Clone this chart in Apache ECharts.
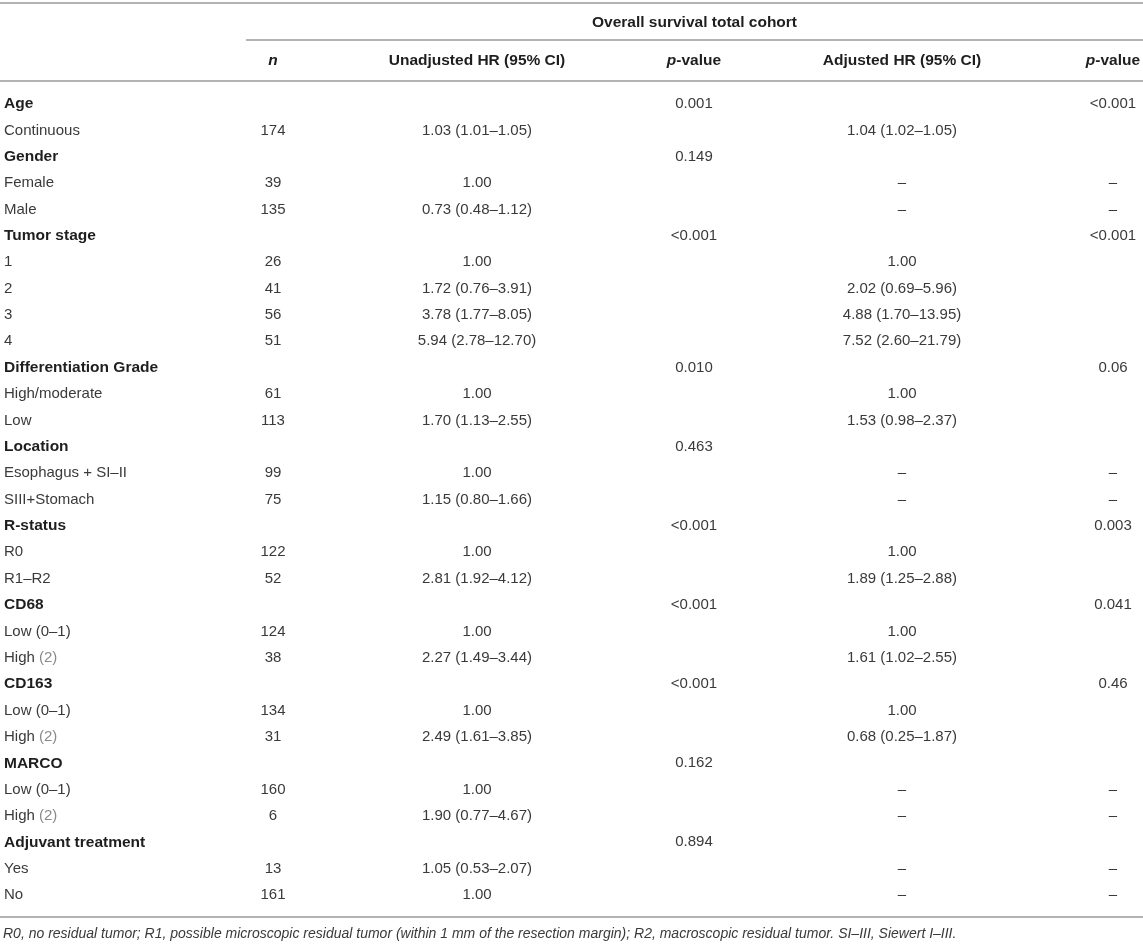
<!DOCTYPE html>
<html>
<head>
<meta charset="utf-8">
<script src="https://cdn.jsdelivr.net/npm/echarts@6/dist/echarts.min.js"></script>
<style>
  html, body { margin: 0; padding: 0; background: #fff; }
  #main { width: 1143px; height: 944px; }
</style>
</head>
<body>
<div id="main"></div>
<script>
// table content, one entry per body row
var labels = ['Age', 'Continuous', 'Gender', 'Female', 'Male', 'Tumor stage', '1', '2', '3', '4',
  'Differentiation Grade', 'High/moderate', 'Low', 'Location', 'Esophagus + SI–II', 'SIII+Stomach',
  'R-status', 'R0', 'R1–R2', 'CD68', 'Low (0–1)', 'High {g|(2)}', 'CD163', 'Low (0–1)', 'High {g|(2)}',
  'MARCO', 'Low (0–1)', 'High {g|(2)}', 'Adjuvant treatment', 'Yes', 'No'];
var groupRows = [0, 2, 5, 10, 13, 16, 19, 22, 25, 28];
var nCol = ['', '174', '', '39', '135', '', '26', '41', '56', '51', '', '61', '113', '', '99', '75',
  '', '122', '52', '', '124', '38', '', '134', '31', '', '160', '6', '', '13', '161'];
var unadjusted = ['', '1.03 (1.01–1.05)', '', '1.00', '0.73 (0.48–1.12)', '', '1.00', '1.72 (0.76–3.91)',
  '3.78 (1.77–8.05)', '5.94 (2.78–12.70)', '', '1.00', '1.70 (1.13–2.55)', '', '1.00', '1.15 (0.80–1.66)',
  '', '1.00', '2.81 (1.92–4.12)', '', '1.00', '2.27 (1.49–3.44)', '', '1.00', '2.49 (1.61–3.85)',
  '', '1.00', '1.90 (0.77–4.67)', '', '1.05 (0.53–2.07)', '1.00'];
var pUnadjusted = ['0.001', '', '0.149', '', '', '<0.001', '', '', '', '', '0.010', '', '', '0.463', '', '',
  '<0.001', '', '', '<0.001', '', '', '<0.001', '', '', '0.162', '', '', '0.894', '', ''];
var adjusted = ['', '1.04 (1.02–1.05)', '', '–', '–', '', '1.00', '2.02 (0.69–5.96)', '4.88 (1.70–13.95)',
  '7.52 (2.60–21.79)', '', '1.00', '1.53 (0.98–2.37)', '', '–', '–', '', '1.00', '1.89 (1.25–2.88)',
  '', '1.00', '1.61 (1.02–2.55)', '', '1.00', '0.68 (0.25–1.87)', '', '–', '–', '', '–', '–'];
var pAdjusted = ['<0.001', '', '', '–', '–', '<0.001', '', '', '', '', '0.06', '', '', '', '–', '–',
  '0.003', '', '', '0.041', '', '', '0.46', '', '', '', '–', '–', '', '–', '–'];
var headers = ['', '{bi|n}', '{b|Unadjusted HR (95% CI)}', '{i|p}{b|-value}', '{b|Adjusted HR (95% CI)}', '{i|p}{b|-value}'];
var spanHeader = 'Overall survival total cohort';
var footnote = 'R0, no residual tumor; R1, possible microscopic residual tumor (within 1 mm of the resection margin); R2, macroscopic residual tumor. SI–III, Siewert I–III.';

// layout: column anchors (x units) and header/rule rows (row units)
var colX = [4, 273, 477, 694, 902, 1113];
var spanX = 592;
var spanRow = -3.07, headRow = -1.63, footRow = 31.48;
var rules = [[-3.83, 0, 1143], [-2.43, 246, 1143], [-0.87, 0, 1143], [30.83, 0, 1143]];

var FONT = '"Liberation Sans", Arial, Helvetica, sans-serif';
var TXT = '#3a3a3a', BOLD = '#1e1e1e';

var cells = [];
var columns = [labels, nCol, unadjusted, pUnadjusted, adjusted, pAdjusted];
columns.forEach(function (col, c) {
  col.forEach(function (t, r) {
    if (!t) return;
    var bold = c === 0 && groupRows.indexOf(r) >= 0;
    cells.push({ x: colX[c], y: r, text: bold ? '{b|' + t + '}' : t, align: c === 0 ? 'left' : 'center' });
  });
});
headers.forEach(function (t, c) {
  if (t) cells.push({ x: colX[c], y: headRow, text: t, align: 'center' });
});
cells.push({ x: spanX, y: spanRow, text: '{b|' + spanHeader + '}', align: 'left' });
cells.push({ x: 3, y: footRow, text: '{it|' + footnote + '}', align: 'left' });

var rich = {
  b: { fontFamily: FONT, fontSize: 15.5, fontWeight: 'bold', fill: BOLD, color: BOLD },
  bi: { fontFamily: FONT, fontSize: 15.5, fontWeight: 'bold', fontStyle: 'italic', fill: BOLD, color: BOLD },
  i: { fontFamily: FONT, fontSize: 15.5, fontWeight: 'bold', fontStyle: 'italic', fill: BOLD, color: BOLD },
  g: { fontFamily: FONT, fontSize: 15, fill: '#8a8a8a', color: '#8a8a8a' },
  it: { fontFamily: FONT, fontSize: 14, fontStyle: 'italic', fill: '#3a3a3a', color: '#3a3a3a' }
};

var chart = echarts.init(document.getElementById('main'));
chart.setOption({
  animation: false,
  grid: { left: 0, right: 0, top: 0, bottom: 0 },
  xAxis: { type: 'value', min: 0, max: 1143, show: false },
  yAxis: { type: 'value', inverse: true, min: -3.944, max: 31.855, show: false },
  series: [
    {
      type: 'custom',
      name: 'rules',
      data: rules,
      clip: false,
      renderItem: function (params, api) {
        var a = api.coord([api.value(1), api.value(0)]);
        var b = api.coord([api.value(2), api.value(0)]);
        return {
          type: 'line',
          shape: { x1: a[0], y1: a[1], x2: b[0], y2: b[1] },
          style: { stroke: '#b3b3b3', lineWidth: 2 }
        };
      }
    },
    {
      type: 'custom',
      name: 'cells',
      data: cells.map(function (c) { return [c.x, c.y]; }),
      clip: false,
      renderItem: function (params, api) {
        var c = cells[params.dataIndex];
        var p = api.coord([api.value(0), api.value(1)]);
        return {
          type: 'text',
          x: p[0],
          y: p[1],
          style: {
            text: c.text,
            fontFamily: FONT,
            fontSize: 15,
            fill: TXT,
            align: c.align,
            verticalAlign: 'middle',
            rich: rich
          }
        };
      }
    }
  ]
});
</script>
</body>
</html>
